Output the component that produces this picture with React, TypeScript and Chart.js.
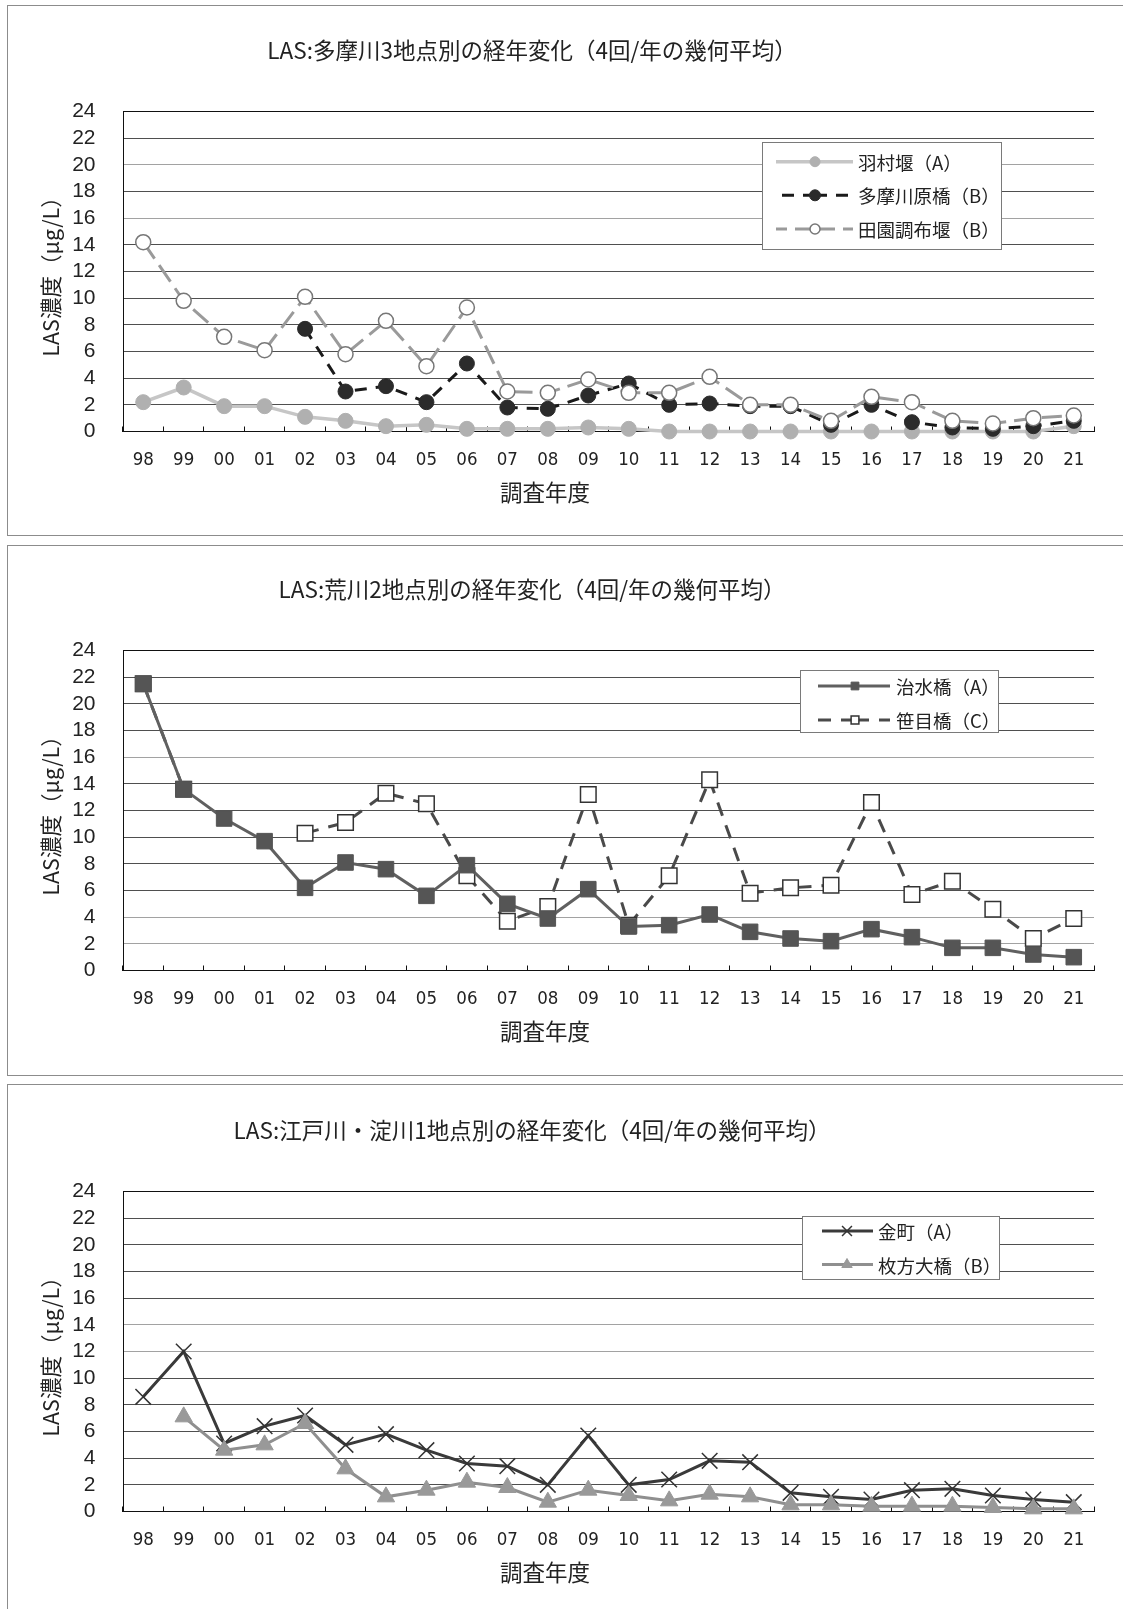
import React, { useEffect, useRef } from 'react';
import { Chart, registerables } from 'chart.js';
import { drawPoint } from 'chart.js/helpers';

Chart.register(...registerables);

// ---------------- data ----------------
const years = ['98', '99', '00', '01', '02', '03', '04', '05', '06', '07', '08', '09', '10', '11', '12', '13', '14', '15', '16', '17', '18', '19', '20', '21'];
const yAxisMin = 0;
const yAxisMax = 24;
const yAxisStep = 2;
const yAxisTitle = 'LAS濃度（μg/L）';
const xAxisTitle = '調査年度';

// Panel 1: Tama river
const tamaTitle = 'LAS:多摩川3地点別の経年変化（4回/年の幾何平均）';
const hamuraName = '羽村堰（A）';
const hamuraValues = [2.2, 3.3, 1.9, 1.9, 1.1, 0.8, 0.4, 0.5, 0.2, 0.2, 0.2, 0.3, 0.2, 0, 0, 0, 0, 0, 0, 0, 0, 0, 0, 0.4];
const tamagawaraName = '多摩川原橋（B）';
const tamagawaraValues = [null, null, null, null, 7.7, 3.0, 3.4, 2.2, 5.1, 1.8, 1.7, 2.7, 3.6, 2.0, 2.1, 1.9, 1.9, 0.5, 2.0, 0.7, 0.3, 0.2, 0.4, 0.8];
const denenName = '田園調布堰（B）';
const denenValues = [14.2, 9.8, 7.1, 6.1, 10.1, 5.8, 8.3, 4.9, 9.3, 3.0, 2.9, 3.9, 2.9, 2.9, 4.1, 2.0, 2.0, 0.8, 2.6, 2.2, 0.8, 0.6, 1.0, 1.2];

// Panel 2: Ara river
const arakawaTitle = 'LAS:荒川2地点別の経年変化（4回/年の幾何平均）';
const jisuiName = '治水橋（A）';
const jisuiValues = [21.5, 13.6, 11.4, 9.7, 6.2, 8.1, 7.6, 5.6, 7.9, 5.0, 3.9, 6.1, 3.3, 3.4, 4.2, 2.9, 2.4, 2.2, 3.1, 2.5, 1.7, 1.7, 1.2, 1.0];
const sasameName = '笹目橋（C）';
const sasameValues = [21.5, 13.6, null, null, 10.3, 11.1, 13.3, 12.5, 7.1, 3.7, 4.8, 13.2, 3.4, 7.1, 14.3, 5.8, 6.2, 6.4, 12.6, 5.7, 6.7, 4.6, 2.4, 3.9];

// Panel 3: Edo / Yodo river
const edoYodoTitle = 'LAS:江戸川・淀川1地点別の経年変化（4回/年の幾何平均）';
const kanamachiName = '金町（A）';
const kanamachiValues = [8.6, 12.0, 5.1, 6.4, 7.2, 5.0, 5.8, 4.6, 3.6, 3.4, 2.0, 5.7, 2.0, 2.4, 3.8, 3.7, 1.4, 1.1, 0.9, 1.6, 1.7, 1.2, 0.9, 0.7];
const hirakataName = '枚方大橋（B）';
const hirakataValues = [null, 7.1, 4.6, 5.0, 6.6, 3.2, 1.1, 1.6, 2.2, 1.8, 0.7, 1.6, 1.2, 0.8, 1.3, 1.1, 0.5, 0.5, 0.4, 0.4, 0.4, 0.3, 0.2, 0.2];

// ---------------- styling ----------------
const CJK = '"Noto Sans CJK JP", "Noto Sans CJK SC", sans-serif';
const TEXT = '#222';
const W = 1123;
const AREA_TOP = 111.5;
const AREA_BOTTOM = 431.5;
const X_SCALE_H = 60;
const Y_SCALE_W = 123;

const panelTextPlugin = {
  id: 'panelText',
  afterDraw(chart: any, _args: any, opts: any) {
    const ctx = chart.ctx;
    ctx.save();
    ctx.fillStyle = TEXT;
    ctx.textAlign = 'center';
    ctx.textBaseline = 'middle';
    ctx.font = `22.5px ${CJK}`;
    ctx.fillText(opts.title, opts.titleX, opts.titleY);
    ctx.font = `22.5px ${CJK}`;
    ctx.fillText(opts.xTitle, opts.xTitleX, opts.xTitleY);
    ctx.restore();
  },
};

const boxLegendPlugin = {
  id: 'boxLegend',
  afterDraw(chart: any, _args: any, opts: any) {
    const ctx = chart.ctx;
    const [x1, y1, x2, y2] = opts.box;
    ctx.save();
    ctx.fillStyle = '#fff';
    ctx.fillRect(x1, y1, x2 - x1, y2 - y1);
    ctx.strokeStyle = '#7a7a7a';
    ctx.lineWidth = 1;
    ctx.setLineDash([]);
    ctx.strokeRect(Math.round(x1) + 0.5, Math.round(y1) + 0.5, Math.round(x2 - x1), Math.round(y2 - y1));
    opts.items.forEach((item: any, i: number) => {
      const ds = chart.data.datasets[item.datasetIndex];
      const y = opts.rows[i];
      const mx = opts.markerX;
      ctx.strokeStyle = ds.borderColor;
      ctx.lineWidth = ds.borderWidth;
      ctx.lineCap = 'butt';
      ctx.setLineDash(ds.borderDash || []);
      ctx.beginPath();
      ctx.moveTo(mx, y);
      ctx.lineTo(opts.lineX[0], y);
      ctx.stroke();
      ctx.beginPath();
      ctx.moveTo(mx, y);
      ctx.lineTo(opts.lineX[1], y);
      ctx.stroke();
      ctx.setLineDash([]);
      ctx.fillStyle = ds.pointBackgroundColor;
      ctx.strokeStyle = ds.pointBorderColor;
      ctx.lineWidth = ds.pointBorderWidth;
      drawPoint(ctx, { pointStyle: ds.pointStyle, radius: item.radius, borderWidth: ds.pointBorderWidth, rotation: 0 }, mx, y);
      ctx.fillStyle = TEXT;
      ctx.font = `18.5px ${CJK}`;
      ctx.textAlign = 'left';
      ctx.textBaseline = 'middle';
      ctx.fillText(ds.label, opts.textX, y + 1);
    });
    ctx.restore();
  },
};

function makeDataset(label: string, data: any[], s: any) {
  return {
    label,
    data,
    borderColor: s.line,
    borderWidth: s.lineWidth,
    borderDash: s.dash || [],
    pointStyle: s.point,
    pointRadius: s.radius,
    pointHoverRadius: s.radius,
    pointBackgroundColor: s.fill,
    pointBorderColor: s.stroke,
    pointBorderWidth: s.strokeWidth,
    tension: 0,
    fill: false,
    clip: false,
    spanGaps: false,
    order: s.order,
  };
}

function buildConfig(spec: any, height: number) {
  return {
    type: 'line',
    data: { labels: years, datasets: spec.datasets },
    options: {
      responsive: false,
      maintainAspectRatio: false,
      animation: false,
      devicePixelRatio: 1,
      events: [],
      layout: { padding: { left: 0, top: AREA_TOP, right: 29, bottom: height - AREA_BOTTOM - X_SCALE_H } },
      plugins: {
        legend: { display: false },
        tooltip: { enabled: false },
        title: { display: false },
        panelText: { title: spec.title, titleX: 532, titleY: 50, xTitle: xAxisTitle, xTitleX: 545, xTitleY: 492 },
        boxLegend: spec.legend,
      },
      scales: {
        x: {
          type: 'category',
          offset: true,
          grid: { offset: true, drawOnChartArea: false, drawTicks: true, tickLength: -5, color: '#111', lineWidth: 1 },
          border: { display: true, color: '#111', width: 1 },
          ticks: {
            autoSkip: false,
            maxRotation: 0,
            color: TEXT,
            padding: 22.4,
            font: { family: '"Liberation Sans Narrow", "DejaVu Sans Condensed", "Liberation Sans", sans-serif', size: 18.5 },
          },
          afterFit: (s: any) => { s.height = X_SCALE_H; },
        },
        y: {
          min: yAxisMin,
          max: yAxisMax,
          ticks: {
            stepSize: yAxisStep,
            autoSkip: false,
            color: TEXT,
            padding: 27.5,
            font: { family: '"Liberation Sans", Arial, sans-serif', size: 21 },
          },
          grid: {
            drawTicks: false,
            lineWidth: 1,
            color: (c: any) => {
              const v = c.tick ? c.tick.value : null;
              if (v === yAxisMax) return '#111';
              return spec.lightGrid.includes(v) ? '#a2a2a2' : '#4f4f4f';
            },
          },
          border: { color: '#111', width: 1 },
          title: {
            display: true,
            text: yAxisTitle,
            color: TEXT,
            font: { family: CJK, size: 21.5 },
            padding: { top: 38.1, bottom: 0 },
          },
          afterFit: (s: any) => { s.width = Y_SCALE_W; },
        },
      },
    },
    plugins: [panelTextPlugin, boxLegendPlugin],
  };
}

const specs = [
  {
    top: 0,
    height: 540,
    title: tamaTitle,
    lightGrid: [20, 16],
    datasets: [
      makeDataset(hamuraName, hamuraValues, { line: '#c6c6c6', lineWidth: 3.5, point: 'circle', radius: 7.5, fill: '#b0b0b0', stroke: '#b0b0b0', strokeWidth: 1, order: 3 }),
      makeDataset(tamagawaraName, tamagawaraValues, { line: '#1a1a1a', lineWidth: 3, dash: [12, 9], point: 'circle', radius: 7.5, fill: '#2b2b2b', stroke: '#2b2b2b', strokeWidth: 1, order: 2 }),
      makeDataset(denenName, denenValues, { line: '#9a9a9a', lineWidth: 3, dash: [20, 8], point: 'circle', radius: 7.5, fill: '#ffffff', stroke: '#777777', strokeWidth: 1.5, order: 1 }),
    ],
    legend: {
      box: [762, 142, 1001, 249],
      rows: [161.7, 195.3, 229],
      lineX: [776, 853],
      markerX: 815,
      textX: 858,
      items: [{ datasetIndex: 0, radius: 5 }, { datasetIndex: 1, radius: 5.5 }, { datasetIndex: 2, radius: 5 }],
    },
  },
  {
    top: 539,
    height: 540,
    title: arakawaTitle,
    lightGrid: [16, 4, 2],
    datasets: [
      makeDataset(jisuiName, jisuiValues, { line: '#606060', lineWidth: 3, point: 'rect', radius: 11, fill: '#555555', stroke: '#555555', strokeWidth: 1, order: 1 }),
      makeDataset(sasameName, sasameValues, { line: '#4a4a4a', lineWidth: 3, dash: [14, 10], point: 'rect', radius: 11, fill: '#ffffff', stroke: '#333333', strokeWidth: 1.5, order: 2 }),
    ],
    legend: {
      box: [800, 131, 998, 193],
      rows: [147, 181],
      lineX: [818, 890],
      markerX: 855,
      textX: 896,
      items: [{ datasetIndex: 0, radius: 5.5 }, { datasetIndex: 1, radius: 5.5 }],
    },
  },
  {
    top: 1080,
    height: 529,
    title: edoYodoTitle,
    lightGrid: [14, 12],
    datasets: [
      makeDataset(kanamachiName, kanamachiValues, { line: '#3a3a3a', lineWidth: 3, point: 'crossRot', radius: 11, fill: '#333333', stroke: '#333333', strokeWidth: 1.5, order: 2 }),
      makeDataset(hirakataName, hirakataValues, { line: '#8f8f8f', lineWidth: 3, point: 'triangle', radius: 10, fill: '#999999', stroke: '#999999', strokeWidth: 1, order: 1 }),
    ],
    legend: {
      box: [802, 136, 999, 199],
      rows: [151, 184.5],
      lineX: [822, 873],
      markerX: 847,
      textX: 878,
      items: [{ datasetIndex: 0, radius: 7 }, { datasetIndex: 1, radius: 6 }],
    },
  },
];

const panelBoxes = [
  { top: 5, height: 531 },
  { top: 545, height: 531 },
  { top: 1084, height: 540 },
];

function LineCanvas({ spec }: { spec: any }) {
  const ref = useRef<HTMLCanvasElement>(null);
  useEffect(() => {
    const chart = new Chart(ref.current as HTMLCanvasElement, buildConfig(spec, spec.height) as any);
    return () => chart.destroy();
  }, [spec]);
  return (
    <canvas
      ref={ref}
      width={W}
      height={spec.height}
      style={{ position: 'absolute', left: 0, top: spec.top, width: W, height: spec.height, display: 'block' }}
    />
  );
}

export default function App() {
  return (
    <div style={{ position: 'absolute', left: 0, top: 0, width: W, height: 1609, overflow: 'hidden', background: '#fff' }}>
      {panelBoxes.map((b, i) => (
        <div
          key={'box' + i}
          style={{ position: 'absolute', left: 7, top: b.top, width: 1140, height: b.height, border: '1px solid #8c8c8c', boxSizing: 'border-box' }}
        />
      ))}
      {specs.map((s, i) => (
        <LineCanvas key={'c' + i} spec={s} />
      ))}
    </div>
  );
}
